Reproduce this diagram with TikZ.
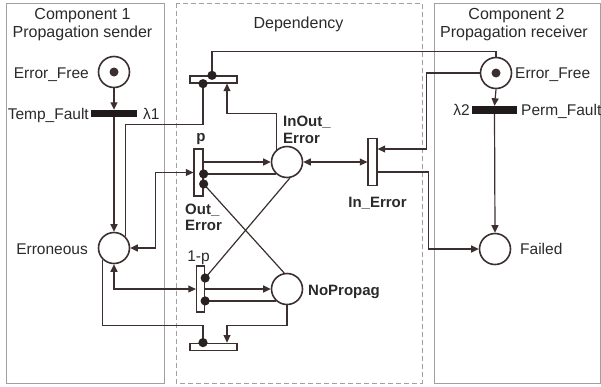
\documentclass[tikz,border=0pt]{standalone}
\usepackage{fontspec}
\setmainfont{Liberation Sans}
\usetikzlibrary{arrows.meta,calc}
\definecolor{ln}{HTML}{3B2F2F}
\definecolor{bx}{HTML}{A0A0A0}
\definecolor{tx}{HTML}{2A2A2A}
\begin{document}
\begin{tikzpicture}[x=1pt,y=-1pt,
  plc/.style={circle, draw=ln, line width=1.6pt, minimum size=31pt, inner sep=0pt},
  blk/.style={rectangle, fill=ln!55!black, minimum width=46pt, minimum height=7pt, inner sep=0pt},
  htr/.style={rectangle, draw=ln, line width=1.3pt, fill=white, minimum width=47pt, minimum height=7pt, inner sep=0pt},
  vtr/.style={rectangle, draw=ln, line width=1.3pt, fill=white, minimum width=9pt, minimum height=47pt, inner sep=0pt},
  lnk/.style={draw=ln, line width=1.2pt},
  arw/.style={lnk, -{Triangle[length=7.5pt,width=7pt]}},
  dbla/.style={lnk, {Triangle[length=7.5pt,width=7pt]}-{Triangle[length=7.5pt,width=7pt]}},
  dota/.style={lnk},
  dotmark/.style={fill=ln!70!black},
  reg/.style={font=\fontsize{15.5}{18}\selectfont, text=tx, inner sep=0pt},
  bld/.style={font=\fontsize{15}{18}\selectfont\bfseries, text=tx, inner sep=0pt},
  ttl/.style={font=\fontsize{16}{18}\selectfont, text=tx, inner sep=0pt},
  compbox/.style={draw=bx, line width=1pt}
]
\useasboundingbox (0,0) rectangle (601,386);

% frames
\draw[compbox] (6,3) rectangle (164,383);
\draw[compbox, dash pattern=on 5pt off 3pt] (176,3) rectangle (422,383);
\draw[compbox] (434,3) rectangle (600,383);

% titles
\node[ttl, anchor=base] (t1a) at (82.5,19) {Component 1};
\node[ttl, anchor=base] (t1b) at (82.5,37) {Propagation sender};
\node[ttl, anchor=base] (t2) at (298.5,28) {Dependency};
\node[ttl, anchor=base] (t3a) at (516.5,19) {Component 2};
\node[ttl, anchor=base] (t3b) at (514,37) {Propagation receiver};

% places
\node[plc] (EF1) at (114,72) {};
\node[plc] (ERR) at (114,248) {};
\node[plc] (IOE) at (287,162) {};
\node[plc] (NP) at (287,289) {};
\node[plc] (EF2) at (496,73) {};
\node[plc] (FAIL) at (495,249) {};
\fill[ln] (EF1) circle (4.5pt);
\fill[ln] (EF2) circle (4.5pt);

% transitions
\node[blk] (TF) at (114,113.5) {};
\node[blk, minimum width=45pt, minimum height=8pt] (PF) at (494.5,110) {};
\node[htr] (TT) at (213.5,79.5) {};
\node[htr, minimum height=7.5pt] (BT) at (213.5,347) {};
\node[vtr] (p) at (198.5,172.5) {};
\node[vtr, minimum width=8pt, minimum height=46pt] (q) at (200.5,289) {};
\node[vtr] (IE) at (372.5,162) {};

% labels
\node[reg, anchor=base east] (lEF1) at (89,78) {Error\_Free};
\node[reg, anchor=base east] (lTF) at (89,119) {Temp\_Fault};
\node[reg, anchor=base west] (l1) at (143,119) {λ1};
\node[reg, anchor=base east] (lERR) at (88,254) {Erroneous};
\node[reg, anchor=base west] (lEF2) at (515,78) {Error\_Free};
\node[reg, anchor=base east] (l2) at (470,115) {λ2};
\node[reg, anchor=base west] (lPF) at (521,115) {Perm\_Fault};
\node[reg, anchor=base west] (lFAIL) at (520,254) {Failed};
\node[bld, anchor=base] (lp) at (201,141) {p};
\node[reg, anchor=base] (lq) at (198.5,261) {1-p};
\node[bld, anchor=base west] (lOE1) at (185,214) {Out\_};
\node[bld, anchor=base west] (lOE2) at (185,230) {Error};
\node[bld, anchor=base west] (lIOE1) at (283,126) {InOut\_};
\node[bld, anchor=base west] (lIOE2) at (283,143) {Error};
\node[bld, anchor=base] (lIE) at (377.5,207) {In\_Error};
\node[bld, anchor=base west] (lNP) at (308,295) {NoPropag};

% anchor points on transitions
\coordinate (ttA) at ($(TT.north)+(-1.5,0)$);
\coordinate (ttB) at ($(TT.south)+(-10.5,0)$);
\coordinate (ttC) at ($(TT.south)+(13.5,0)$);
\coordinate (pA) at (p.east |- IOE.west);
\coordinate (pB) at (p.east |- IOE.227);
\coordinate (pC) at ($(p.east)+(0,11.5)$);
\coordinate (qA) at ($(q.east)+(0,-11)$);
\coordinate (qB) at (q.east |- NP.227);
\coordinate (btA) at ($(BT.north)+(-10.5,0)$);
\coordinate (btB) at ($(BT.north)+(13.5,0)$);
\coordinate (ieA) at ($(IE.east)+(0,-13)$);
\coordinate (ieB) at ($(IE.east)+(0,10)$);

% connectors
\draw[arw] (EF1.south) -- (TF.north);
\draw[arw] (TF.south) -- (ERR.north);
\draw[dota] (EF2.north) -- ++(0,-5) -| (ttA);
\draw[dota] (ERR.45) -- ++(0,-112) -| (ttB);
\draw[arw] (IOE.130) -- ++(0,-36) -| (ttC);
\draw[dbla] (ERR.east) -- ++(25.5,0) |- (p.west);
\draw[arw] (pA) -- (IOE.west);
\draw[dota] (IOE.227) -- (pB);
\draw[dota] (NP.100) -- (pC);
\draw[dota] (IOE.280) -- (qA);
\draw[dbla] (ERR.south) |- (q.west);
\draw[arw] (q.east) -- (NP.west);
\draw[dota] (NP.227) -- (qB);
\draw[arw] (NP.south) -- ++(0,20) -| (btB);
\draw[dota] (ERR.225) -- ++(0,66) -| (btA);
\draw[dbla] (IOE.east) -- (IE.west);
\draw[arw] (EF2.west) -- ++(-53,0) |- (ieA);
\draw[arw] (ieB) -- ++(51,0) |- (FAIL.west);
\draw[arw] (EF2.south) -- (PF.north);
\draw[arw] (PF.south) -- (FAIL.north);

% test-arc dots
\foreach \c in {ttA,ttB,pB,pC,qA,qB,btA}
  \fill[dotmark] (\c) circle (4.6pt);
\end{tikzpicture}
\end{document}
